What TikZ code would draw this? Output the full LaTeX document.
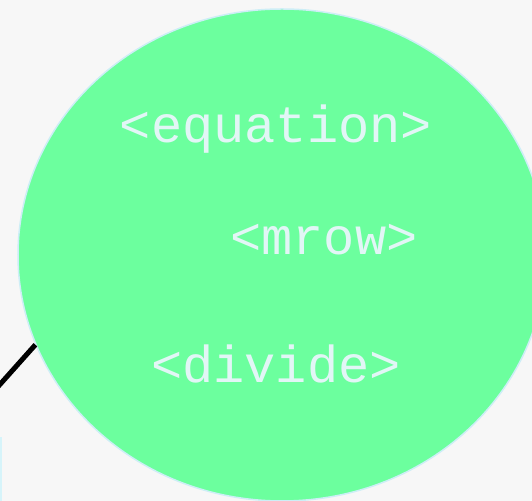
\documentclass[tikz,border=0pt]{standalone}
\usepackage{fontspec}
\newfontfamily\tagfont{Liberation Mono}
\usetikzlibrary{shapes.geometric}
\definecolor{bubblegreen}{RGB}{108,255,158}
\definecolor{bubbleedge}{RGB}{205,238,246}
\definecolor{tagwhite}{RGB}{226,246,246}
\definecolor{paper}{RGB}{247,247,247}
\definecolor{sideblue}{RGB}{214,244,250}
\tikzset{
  bubble/.style={ellipse,fill=bubblegreen,draw=bubbleedge,line width=0.75pt,inner sep=0pt,
    minimum width=264pt,minimum height=246pt},
  bubble label/.style={font=\tagfont\fontsize{26}{26}\selectfont,text=tagwhite,anchor=base,inner sep=0pt},
  link/.style={draw=black,line width=2.5pt}
}
\begin{document}
\begin{tikzpicture}[x=0.5pt,y=-0.5pt]
  \useasboundingbox (0,0) rectangle (532,501);
  \fill[paper] (0,0) rectangle (532,501);
  \fill[sideblue] (-20,437) rectangle (2,520);

  \node[bubble] (eqn) at (282,255) {};
  \node[bubble label] (eqtag) at (276,143) {<equation>};
  \node[bubble label] (rowtag) at (324,255) {<mrow>};
  \node[bubble label] (divtag) at (276,383) {<divide>};

  \coordinate (linkend) at (-30,418);
  \draw[link] (linkend) -- (eqn.200);
\end{tikzpicture}
\end{document}
